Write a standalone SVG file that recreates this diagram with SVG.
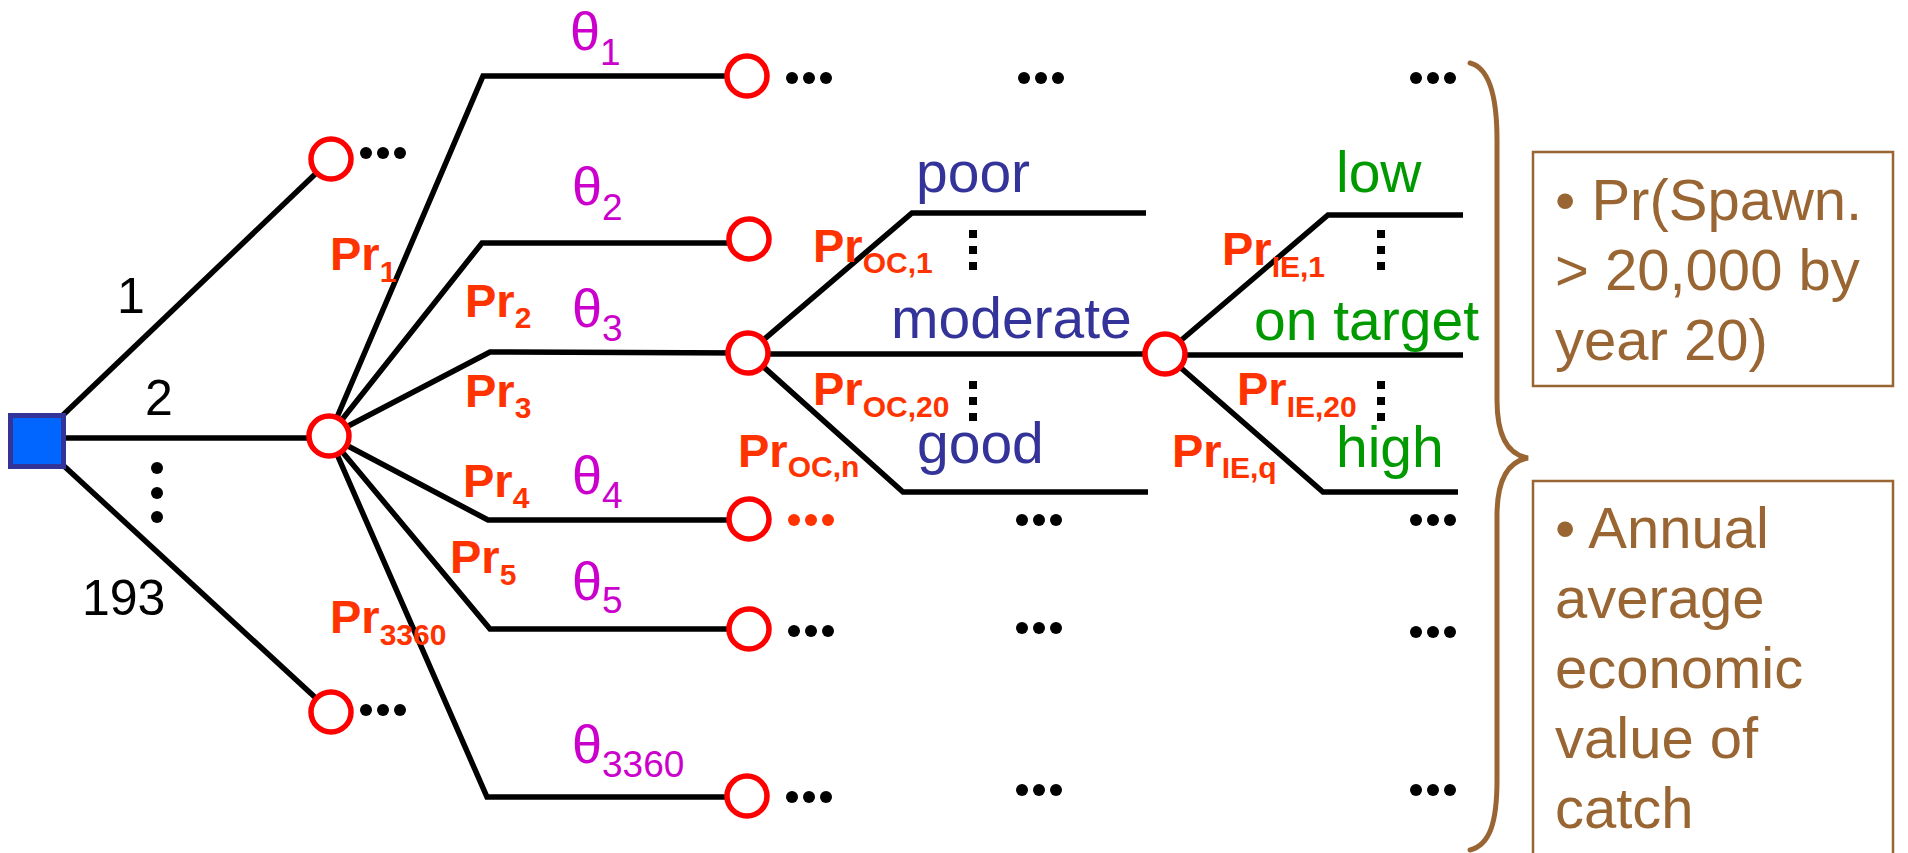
<svg xmlns="http://www.w3.org/2000/svg" xmlns:xlink="http://www.w3.org/1999/xlink" width="1908" height="853" viewBox="0 0 1908 853">
  <style>
    .edge { fill: none; stroke: #000; stroke-width: 5.5; stroke-linejoin: miter; }
    .chance { fill: #fff; stroke: #ff0000; stroke-width: 5.5; }
    .num { font-family: "Liberation Sans", Arial, sans-serif; font-size: 50px; fill: #000; }
    .pr { font-family: "Liberation Sans", Arial, sans-serif; font-size: 47px; font-weight: bold; fill: #ff3300; }
    .prsub { font-size: 30px; }
    .theta { font-family: "Liberation Sans", Arial, sans-serif; font-size: 54px; fill: #cc00cc; }
    .thsub { font-size: 37px; }
    .oc { font-family: "Liberation Sans", Arial, sans-serif; font-size: 57px; fill: #333399; }
    .ie { font-family: "Liberation Sans", Arial, sans-serif; font-size: 57px; fill: #009900; }
    .note { font-family: "Liberation Sans", Arial, sans-serif; font-size: 58px; fill: #996633; }
    .box { fill: none; stroke: #996633; stroke-width: 2.5; }
    .brace { fill: none; stroke: #996633; stroke-width: 5; stroke-linecap: round; }
  </style>
  <defs>
    <g id="hdots">
      <circle cx="0" cy="0" r="6"/>
      <circle cx="17" cy="0" r="6"/>
      <circle cx="34" cy="0" r="6"/>
    </g>
    <g id="vdots-sq">
      <rect x="-4" y="-4" width="8" height="8"/>
      <rect x="-4" y="12" width="8" height="8"/>
      <rect x="-4" y="28" width="8" height="8"/>
    </g>
  </defs>

  <rect width="1908" height="853" fill="#fff"/>

  <!-- branches -->
  <g id="connectors">
    <!-- decision node to first chance nodes -->
    <line class="edge" x1="62" y1="416" x2="331" y2="159"/>
    <line class="edge" x1="64" y1="438" x2="329" y2="438"/>
    <line class="edge" x1="64" y1="466" x2="331" y2="712"/>
    <!-- parameter set branches -->
    <polyline class="edge" points="329,436 483,76 747,76"/>
    <polyline class="edge" points="329,436 482,243 735,243"/>
    <polyline class="edge" points="329,436 490,352 748,353"/>
    <polyline class="edge" points="329,436 488,520 749,520"/>
    <polyline class="edge" points="329,436 490,629 749,629"/>
    <polyline class="edge" points="329,436 487,797 747,797"/>
    <!-- ocean condition branches -->
    <polyline class="edge" points="748,353 912,213 1146,213"/>
    <line class="edge" x1="748" y1="354" x2="1165" y2="354"/>
    <polyline class="edge" points="748,353 903,492 1148,492"/>
    <!-- implementation error branches -->
    <polyline class="edge" points="1165,354 1328,215 1463,215"/>
    <line class="edge" x1="1165" y1="355" x2="1463" y2="355"/>
    <polyline class="edge" points="1165,354 1323,492 1458,492"/>
  </g>

  <!-- decision node -->
  <g id="decision">
    <rect x="10.5" y="415.5" width="53" height="51" fill="#0066ff" stroke="#333399" stroke-width="5"/>
  </g>

  <!-- chance nodes -->
  <g id="chance-1"><circle class="chance" cx="331" cy="159" r="20"/></g>
  <g id="chance-2"><circle class="chance" cx="329" cy="436" r="20"/></g>
  <g id="chance-193"><circle class="chance" cx="331" cy="712" r="20"/></g>
  <g id="theta-1"><circle class="chance" cx="747" cy="76" r="20"/></g>
  <g id="theta-2"><circle class="chance" cx="749" cy="239" r="20"/></g>
  <g id="theta-3"><circle class="chance" cx="748" cy="353" r="20"/></g>
  <g id="theta-4"><circle class="chance" cx="749" cy="519" r="20"/></g>
  <g id="theta-5"><circle class="chance" cx="749" cy="629" r="20"/></g>
  <g id="theta-3360"><circle class="chance" cx="747" cy="796" r="20"/></g>
  <g id="oc-moderate"><circle class="chance" cx="1165" cy="354" r="20"/></g>

  <!-- continuation dots -->
  <g id="ellipses" fill="#000">
    <use xlink:href="#hdots" x="366" y="153"/>
    <use xlink:href="#hdots" x="366" y="710"/>
    <circle cx="157" cy="468" r="6"/>
    <circle cx="157" cy="493" r="6"/>
    <circle cx="157" cy="517" r="6"/>
    <use xlink:href="#hdots" x="792" y="78"/>
    <use xlink:href="#hdots" x="794" y="520" fill="#ff3300"/>
    <use xlink:href="#hdots" x="794" y="631"/>
    <use xlink:href="#hdots" x="792" y="797"/>
    <use xlink:href="#hdots" x="1024" y="78"/>
    <use xlink:href="#hdots" x="1022" y="520"/>
    <use xlink:href="#hdots" x="1022" y="628"/>
    <use xlink:href="#hdots" x="1022" y="790"/>
    <use xlink:href="#hdots" x="1416" y="78"/>
    <use xlink:href="#hdots" x="1416" y="520"/>
    <use xlink:href="#hdots" x="1416" y="632"/>
    <use xlink:href="#hdots" x="1416" y="790"/>
    <use xlink:href="#vdots-sq" x="973" y="234"/>
    <use xlink:href="#vdots-sq" x="973" y="385"/>
    <use xlink:href="#vdots-sq" x="1381" y="234"/>
    <use xlink:href="#vdots-sq" x="1381" y="385"/>
  </g>

  <!-- alternative labels -->
  <g id="alt-labels">
    <text class="num" x="117" y="313">1</text>
    <text class="num" x="145" y="415">2</text>
    <text class="num" x="82" y="615">193</text>
  </g>

  <!-- branch probabilities -->
  <g id="prob-labels">
    <text class="pr" x="330" y="270">Pr<tspan class="prsub" dy="12">1</tspan></text>
    <text class="pr" x="465" y="317">Pr<tspan class="prsub" dy="11">2</tspan></text>
    <text class="pr" x="465" y="407">Pr<tspan class="prsub" dy="11">3</tspan></text>
    <text class="pr" x="463" y="497">Pr<tspan class="prsub" dy="11">4</tspan></text>
    <text class="pr" x="450" y="573">Pr<tspan class="prsub" dy="12">5</tspan></text>
    <text class="pr" x="330" y="633">Pr<tspan class="prsub" dy="12">3360</tspan></text>
    <text class="pr" x="813" y="262">Pr<tspan class="prsub" dy="11">OC,1</tspan></text>
    <text class="pr" x="813" y="405">Pr<tspan class="prsub" dy="12">OC,20</tspan></text>
    <text class="pr" x="738" y="467">Pr<tspan class="prsub" dy="10">OC,n</tspan></text>
    <text class="pr" x="1222" y="265">Pr<tspan class="prsub" dy="12">IE,1</tspan></text>
    <text class="pr" x="1237" y="405">Pr<tspan class="prsub" dy="12">IE,20</tspan></text>
    <text class="pr" x="1172" y="467">Pr<tspan class="prsub" dy="11">IE,q</tspan></text>
  </g>

  <!-- parameter sets -->
  <g id="theta-labels">
    <text class="theta" x="570" y="50">θ<tspan class="thsub" dy="15">1</tspan></text>
    <text class="theta" x="572" y="205">θ<tspan class="thsub" dy="15">2</tspan></text>
    <text class="theta" x="572" y="327">θ<tspan class="thsub" dy="14">3</tspan></text>
    <text class="theta" x="572" y="494">θ<tspan class="thsub" dy="14">4</tspan></text>
    <text class="theta" x="572" y="600">θ<tspan class="thsub" dy="13">5</tspan></text>
    <text class="theta" x="572" y="763">θ<tspan class="thsub" dy="14">3360</tspan></text>
  </g>

  <!-- ocean conditions -->
  <g id="oc-labels">
    <text class="oc" x="916" y="192">poor</text>
    <text class="oc" x="891" y="338">moderate</text>
    <text class="oc" x="917" y="463">good</text>
  </g>

  <!-- implementation error outcomes -->
  <g id="ie-labels">
    <text class="ie" x="1336" y="192">low</text>
    <text class="ie" x="1254" y="340">on target</text>
    <text class="ie" x="1336" y="467">high</text>
  </g>

  <!-- brace gathering the end points -->
  <path class="brace" d="M1470,63 C1490,68 1497,100 1497,140 L1497,400 C1497,440 1510,455 1528,458 C1510,461 1497,476 1497,516 L1497,780 C1497,822 1490,845 1470,850"/>

  <!-- performance measures -->
  <g id="measure-spawners">
    <rect class="box" x="1533" y="152" width="360" height="234"/>
    <text class="note" x="1555" y="220">• Pr(Spawn.</text>
    <text class="note" x="1555" y="290">&gt; 20,000 by</text>
    <text class="note" x="1555" y="360">year 20)</text>
  </g>
  <g id="measure-catch">
    <rect class="box" x="1533" y="481" width="360" height="380"/>
    <text class="note" x="1555" y="548">• Annual</text>
    <text class="note" x="1555" y="618">average</text>
    <text class="note" x="1555" y="688">economic</text>
    <text class="note" x="1555" y="758">value of</text>
    <text class="note" x="1555" y="828">catch</text>
  </g>
</svg>
